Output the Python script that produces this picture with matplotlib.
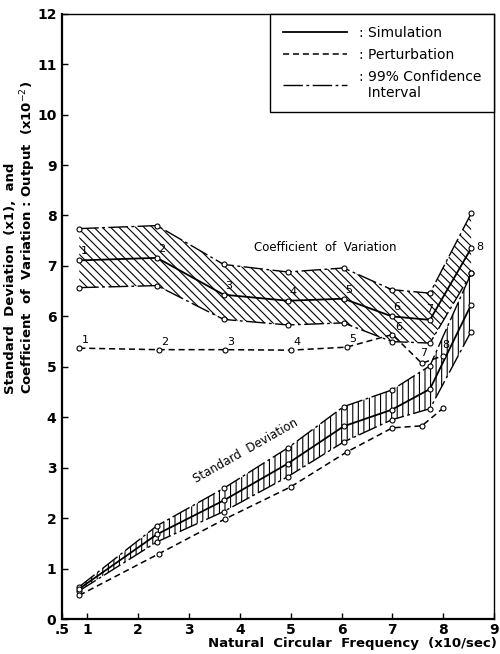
import numpy as np
import matplotlib
matplotlib.use('Agg')
import matplotlib.pyplot as plt
from matplotlib.lines import Line2D

plt.rcParams.update({'font.family': 'DejaVu Sans', 'font.size': 10,
                     'hatch.color': 'black', 'hatch.linewidth': 0.8})

# point positions (x10/sec)
freq = [0.84, 2.37, 3.68, 4.94, 6.04, 6.99, 7.74, 8.55]
freq_pert = [0.84, 2.40, 3.70, 5.00, 6.10, 7.00, 7.58, 8.00]

# coefficient of variation (x10^-2)
cv_sim = [7.11, 7.16, 6.43, 6.31, 6.35, 6.00, 5.93, 7.35]
cv_upper = [7.74, 7.80, 7.03, 6.88, 6.96, 6.53, 6.46, 8.04]
cv_lower = [6.57, 6.61, 5.94, 5.83, 5.87, 5.50, 5.47, 6.85]
cv_pert = [5.37, 5.34, 5.34, 5.33, 5.39, 5.64, 5.07, 5.22]

# standard deviation (x1)
sd_sim = [0.60, 1.68, 2.35, 3.08, 3.82, 4.15, 4.56, 6.23]
sd_upper = [0.64, 1.85, 2.59, 3.39, 4.21, 4.54, 5.02, 6.85]
sd_lower = [0.56, 1.53, 2.13, 2.82, 3.51, 3.95, 4.17, 5.70]
sd_pert = [0.47, 1.29, 1.98, 2.62, 3.31, 3.79, 3.83, 4.18]

point_labels = ['1', '2', '3', '4', '5', '6', '7', '8']

x_ticks = [0.5, 1, 2, 3, 4, 5, 6, 7, 8, 9]
x_ticklabels = ['.5', '1', '2', '3', '4', '5', '6', '7', '8', '9']
y_ticks = list(range(0, 13))

solid = '-'
dashed = (0, (4, 2.5))
dashdot = (0, (14, 2.5, 2, 2.5))
mk = dict(marker='o', markersize=3.6, markerfacecolor='white',
          markeredgecolor='black', markeredgewidth=0.8)

fig = plt.figure(figsize=(5, 6.54), dpi=100)
ax = fig.add_axes([0.124, 0.0535, 0.864, 0.9255])

# hatched confidence bands
ax.fill_between(freq, cv_lower, cv_upper, facecolor='none', edgecolor='black',
                hatch='\\\\\\\\', linewidth=0)
ax.fill_between(freq, sd_lower, sd_upper, facecolor='none', edgecolor='black',
                hatch='|||', linewidth=0)

for lo, hi, mid in [(cv_lower, cv_upper, cv_sim), (sd_lower, sd_upper, sd_sim)]:
    ax.plot(freq, hi, color='black', lw=1.0, ls=dashdot, **mk)
    ax.plot(freq, lo, color='black', lw=1.0, ls=dashdot, **mk)
    ax.plot(freq, mid, color='black', lw=1.3, ls=solid, **mk)

ax.plot(freq_pert, cv_pert, color='black', lw=1.1, ls=dashed, **mk)
ax.plot(freq_pert, sd_pert, color='black', lw=1.1, ls=dashed, **mk)

# point numbers
for i, lab in enumerate(point_labels):
    off = (1, 3)
    if i == 6:
        off = (-3, 4)
    if i == 7:
        off = (4, -3)
    ax.annotate(lab, (freq[i], cv_sim[i]), xytext=off, textcoords='offset points',
                fontsize=8, ha='left', va='bottom')
    poff = (2, 2) if i < 6 else (-1, 4)
    ax.annotate(lab, (freq_pert[i], cv_pert[i]), xytext=poff, textcoords='offset points',
                fontsize=8, ha='left', va='bottom')

ax.text(5.67, 7.36, 'Coefficient  of  Variation', fontsize=8.5, ha='center', va='center')
ax.text(4.11, 3.33, 'Standard  Deviation', fontsize=8.5, rotation=29.5,
        ha='center', va='center', rotation_mode='anchor')

ax.set_xlim(0.5, 9)
ax.set_ylim(0, 12)
ax.set_xticks(x_ticks)
ax.set_xticklabels(x_ticklabels, fontweight='bold', fontsize=10)
ax.set_yticks(y_ticks)
ax.set_yticklabels([str(t) for t in y_ticks], fontweight='bold', fontsize=10)
ax.tick_params(direction='in', length=4, width=1)
ax.tick_params(axis='x', pad=3)
ax.tick_params(axis='y', pad=4)
for side in ['left', 'bottom']:
    ax.spines[side].set_linewidth(1.6)
for side in ['top', 'right']:
    ax.spines[side].set_linewidth(1.0)

handles = [Line2D([], [], color='black', lw=1.3, ls=solid),
           Line2D([], [], color='black', lw=1.1, ls=dashed),
           Line2D([], [], color='black', lw=1.0, ls=dashdot)]
leg = ax.legend(handles, [': Simulation', ': Perturbation', ': 99% Confidence\n  Interval'],
                loc='upper right', borderaxespad=0, fancybox=False, edgecolor='black',
                framealpha=1, handlelength=4.6, handletextpad=0.9, borderpad=0.9,
                labelspacing=0.55, prop={'size': 10})
leg.get_frame().set_linewidth(1.0)

fig.text(11 / 500, 1 - 394 / 654, 'Standard  Deviation  (x1),  and',
         rotation=90, ha='center', va='bottom', fontweight='bold', fontsize=9.5)
fig.text(28 / 500, 1 - 394 / 654, 'Coefficient  of  Variation : Output  (x10$^{-2}$)',
         rotation=90, ha='center', va='bottom', fontweight='bold', fontsize=9.5)
fig.text(497 / 500, 1 - 644 / 654, 'Natural  Circular  Frequency  (x10/sec)',
         ha='right', va='center', fontweight='bold', fontsize=9.5)

fig.savefig('out.png', dpi=100)
